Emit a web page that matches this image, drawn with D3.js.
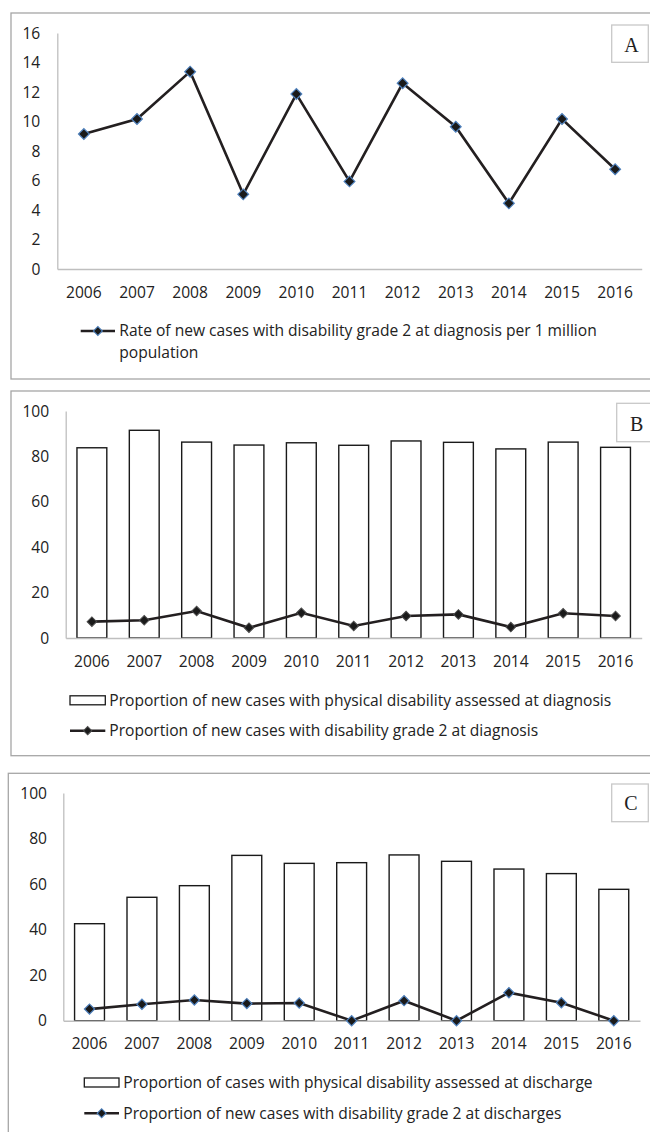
<!DOCTYPE html>
<html>
<head>
<meta charset="utf-8">
<script src="https://cdn.jsdelivr.net/npm/d3@7"></script>
<style>
  html, body { margin: 0; padding: 0; background: #fff; }
  svg { display: block; }
  text { font-family: "Open Sans", Lato, sans-serif; fill: #222; }
</style>
</head>
<body>
<script>
// ---------- DATA ----------
const years = ["2006","2007","2008","2009","2010","2011","2012","2013","2014","2015","2016"];

// Panel A: rate of new cases with disability grade 2 at diagnosis per 1 million population
const rateA = [9.15, 10.17, 13.38, 5.06, 11.86, 5.94, 12.59, 9.65, 4.45, 10.17, 6.76];
const ticksA = [0, 2, 4, 6, 8, 10, 12, 14, 16];
const legendA = ["Rate of new cases with disability grade 2 at diagnosis per 1 million", "population"];

// Panel B
const assessedB = [83.8, 91.5, 86.3, 85.0, 86.0, 84.9, 86.8, 86.2, 83.3, 86.3, 84.0];
const grade2B = [7.2, 7.8, 11.9, 4.5, 11.1, 5.3, 9.7, 10.4, 4.8, 10.9, 9.7];
const ticksB = [0, 20, 40, 60, 80, 100];
const legendBbar = "Proportion of new cases with physical disability assessed at diagnosis";
const legendBline = "Proportion of new cases with disability grade 2 at diagnosis";

// Panel C
const assessedC = [42.6, 54.2, 59.3, 72.6, 69.1, 69.4, 72.8, 70.0, 66.6, 64.6, 57.7];
const grade2C = [5.1, 7.2, 9.1, 7.5, 7.8, 0, 8.8, 0, 12.3, 7.9, 0];
const ticksC = [0, 20, 40, 60, 80, 100];
const legendCbar = "Proportion of cases with physical disability assessed at discharge";
const legendCline = "Proportion of new cases with disability grade 2 at discharges";

const panelLabels = ["A", "B", "C"];

// ---------- DRAW ----------
const W = 650, H = 1132;
const svg = d3.select("body").append("svg").attr("width", W).attr("height", H);

const FS = 15.6;
const FONT = "'Open Sans', Lato, sans-serif";
const TXT = "#222";
const lineColor = "#231f20";
const axisColor = "#bfbfbf";
const borderColor = "#a6a6a6";

function diamond(sel, size, fill, stroke, sw) {
  sel.attr("d", d3.symbol(d3.symbolSquare, size)())
     .attr("fill", fill).attr("stroke", stroke).attr("stroke-width", sw);
}

function panel(cfg) {
  const g = svg.append("g");
  // outer border
  g.append("rect")
    .attr("x", cfg.box[0]).attr("y", cfg.box[1])
    .attr("width", cfg.box[2]).attr("height", cfg.box[3])
    .attr("fill", "none").attr("stroke", borderColor).attr("stroke-width", 1.3);

  const x = d3.scaleBand().domain(years).range([cfg.x0, cfg.x1])
    .paddingInner(0.43).paddingOuter(0.215);
  const y = d3.scaleLinear().domain([0, cfg.ymax]).range([cfg.yb, cfg.yt]);

  // bars
  if (cfg.bars) {
    g.selectAll("rect.bar").data(cfg.bars).join("rect").attr("class", "bar")
      .attr("x", (d, i) => x(years[i]))
      .attr("width", x.bandwidth())
      .attr("y", d => y(d))
      .attr("height", d => y(0) - y(d))
      .attr("fill", "#fff").attr("stroke", "#1a1a1a").attr("stroke-width", 1.4);
  }

  // y axis
  const ya = g.append("g").attr("transform", `translate(${cfg.x0},0)`)
    .call(d3.axisLeft(y).tickValues(cfg.ticks).tickSize(0).tickSizeOuter(0).tickPadding(cfg.ypad));
  ya.select(".domain").attr("stroke", axisColor).attr("stroke-width", 1.3);
  ya.selectAll("text").attr("font-size", FS).attr("font-family", FONT).attr("fill", TXT);

  // x axis
  const xa = g.append("g").attr("transform", `translate(0,${cfg.yb})`)
    .call(d3.axisBottom(x).tickSize(0).tickSizeOuter(0).tickPadding(cfg.xpad));
  xa.select(".domain").attr("stroke", axisColor).attr("stroke-width", 1.6);
  xa.selectAll("text").attr("font-size", FS).attr("font-family", FONT).attr("fill", TXT);

  // line
  const cx = d => x(d) + x.bandwidth() / 2;
  const line = d3.line().x((d, i) => cx(years[i])).y(d => y(d));
  g.append("path").datum(cfg.line).attr("d", line)
    .attr("fill", "none").attr("stroke", lineColor).attr("stroke-width", 2.6)
    .attr("stroke-linejoin", "miter");
  g.selectAll("path.mk").data(cfg.line).join("path").attr("class", "mk")
    .attr("transform", (d, i) => `translate(${cx(years[i])},${y(d)}) rotate(45)`)
    .call(diamond, cfg.mkSize, "#1a1a1a", cfg.mkStroke, cfg.mkSW);

  // panel letter box
  const lb = cfg.letterBox;
  g.append("rect").attr("x", lb[0]).attr("y", lb[1]).attr("width", lb[2]).attr("height", lb[3])
    .attr("fill", "#fff").attr("stroke", "#c8c8c8").attr("stroke-width", 1.3);
  g.append("text").attr("x", lb[4]).attr("y", lb[5]).attr("text-anchor", "middle")
    .attr("dy", "0.35em")
    .style("font-family", "'Liberation Serif', 'DejaVu Serif', serif")
    .attr("font-size", 20).text(cfg.letter);

  return { g, x, y };
}

// legend helpers
function legendLine(g, x1, x2, yy, mkSize, mkStroke, mkSW) {
  g.append("line").attr("x1", x1).attr("x2", x2).attr("y1", yy).attr("y2", yy)
    .attr("stroke", lineColor).attr("stroke-width", 2.6);
  g.append("path").attr("transform", `translate(${(x1 + x2) / 2},${yy}) rotate(45)`)
    .call(diamond, mkSize, "#1a1a1a", mkStroke, mkSW);
}
function legendBar(g, x1, x2, yy) {
  g.append("rect").attr("x", x1).attr("y", yy - 4.5).attr("width", x2 - x1).attr("height", 9)
    .attr("fill", "#fff").attr("stroke", "#1a1a1a").attr("stroke-width", 1.3);
}
function legendText(g, tx, yy, str) {
  g.append("text").attr("x", tx).attr("y", yy).attr("dy", "0.35em")
    .attr("font-size", FS).attr("font-family", FONT).attr("fill", TXT).text(str);
}

// Panel A
const pA = panel({
  box: [11, 13, 660, 366],
  x0: 57.3, x1: 641.7, yb: 269, yt: 33, ymax: 16, ticks: ticksA,
  ypad: 17, xpad: 18.2,
  line: rateA, mkSize: 58, mkStroke: "#4f81bd", mkSW: 1.2,
  letterBox: [611.7, 25, 36.6, 37.3, 631.5, 44.5], letter: panelLabels[0]
});
legendLine(pA.g, 80.7, 115, 331, 40, "#4f81bd", 1.1);
legendText(pA.g, 119.3, 331, legendA[0]);
legendText(pA.g, 119.3, 352.5, legendA[1]);

// Panel B
const pB = panel({
  box: [11, 391, 660, 364.7],
  x0: 65.7, x1: 641.7, yb: 638, yt: 411, ymax: 100, ticks: ticksB,
  ypad: 16.5, xpad: 17.9,
  bars: assessedB,
  line: grade2B, mkSize: 46, mkStroke: "#4d4d4d", mkSW: 1,
  letterBox: [616.7, 403.3, 50, 38.4, 636.7, 423.5], letter: panelLabels[1]
});
legendBar(pB.g, 70, 105.3, 700.3);
legendText(pB.g, 109.3, 700.3, legendBbar);
legendLine(pB.g, 70, 105.3, 730.7, 34, "#4d4d4d", 1);
legendText(pB.g, 109.3, 730.5, legendBline);

// Panel C
const pC = panel({
  box: [8.3, 773.3, 660, 400],
  x0: 63.3, x1: 640, yb: 1020.7, yt: 793, ymax: 100, ticks: ticksC,
  ypad: 16.3, xpad: 17.1,
  bars: assessedC,
  line: grade2C, mkSize: 52, mkStroke: "#4f81bd", mkSW: 1.2,
  letterBox: [611.7, 784, 36.6, 37.7, 631, 803], letter: panelLabels[2]
});
legendBar(pC.g, 84.3, 119, 1082.5);
legendText(pC.g, 123.3, 1082.5, legendCbar);
legendLine(pC.g, 84.3, 119, 1113.3, 40, "#4f81bd", 1.1);
legendText(pC.g, 123.3, 1113.3, legendCline);
</script>
</body>
</html>
